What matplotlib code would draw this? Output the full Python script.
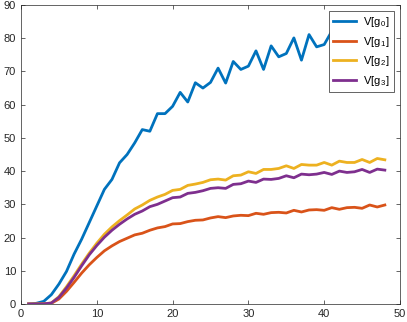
import matplotlib.pyplot as plt

plt.rcParams["font.family"] = ["Liberation Sans", "DejaVu Sans"]
plt.rcParams["mathtext.fontset"] = "custom"
plt.rcParams["mathtext.rm"] = "Liberation Sans"
plt.rcParams["mathtext.it"] = "Liberation Sans"

# sample index (x axis)
steps = list(range(1, 49))

v_g0 = [0.0, 0.2, 0.8, 2.8, 6.0, 9.8, 15.0, 19.5, 24.5, 29.5,
        34.5, 37.5, 42.5, 45.0, 48.5, 52.5, 52.0, 57.3, 57.3, 59.5,
        63.7, 60.8, 66.6, 65.0, 66.7, 71.0, 66.5, 73.0, 70.6, 71.6,
        76.2, 70.6, 77.7, 74.4, 75.4, 80.1, 73.4, 81.1, 77.4, 78.1,
        82.1, 80.0, 83.0, 81.0, 84.0, 82.0, 85.0, 84.0]
v_g1 = [0.0, 0.0, 0.05, 0.2, 1.5, 3.8, 6.5, 9.3, 11.8, 14.0,
        16.0, 17.5, 18.8, 19.8, 20.8, 21.3, 22.2, 22.9, 23.3, 24.1,
        24.2, 24.8, 25.2, 25.3, 25.9, 26.3, 26.0, 26.5, 26.7, 26.6,
        27.3, 27.0, 27.5, 27.6, 27.4, 28.2, 27.7, 28.3, 28.4, 28.2,
        29.0, 28.5, 29.0, 29.1, 28.8, 29.8, 29.2, 29.8]
v_g2 = [0.0, 0.0, 0.05, 0.3, 2.2, 5.2, 8.5, 12.0, 15.3, 18.3,
        21.0, 23.2, 25.1, 26.8, 28.6, 29.8, 31.2, 32.2, 33.0, 34.2,
        34.5, 35.7, 36.1, 36.6, 37.4, 37.6, 37.3, 38.6, 38.8, 39.8,
        39.3, 40.5, 40.5, 40.8, 41.6, 40.8, 42.0, 41.8, 41.8, 42.6,
        41.8, 43.0, 42.6, 42.6, 43.5, 42.6, 43.8, 43.4]
v_g3 = [0.0, 0.0, 0.05, 0.3, 2.0, 4.8, 8.0, 11.5, 14.8, 17.6,
        20.1, 22.2, 24.0, 25.6, 27.0, 28.0, 29.3, 30.0, 31.0, 32.0,
        32.2, 33.3, 33.6, 34.1, 34.8, 35.0, 34.8, 36.0, 36.2, 37.0,
        36.6, 37.6, 37.5, 37.8, 38.6, 38.0, 39.1, 38.9, 39.1, 39.6,
        39.0, 40.0, 39.6, 39.8, 40.5, 39.6, 40.6, 40.3]

labels = [r"V[g$_{\,0}$]", r"V[g$_{\,1}$]", r"V[g$_{\,2}$]", r"V[g$_{\,3}$]"]
colors = ["#0072BD", "#D95319", "#EDB120", "#7E2F8E"]

fig = plt.figure(figsize=(4.07, 3.22), dpi=100)
ax = fig.add_axes([21 / 407, 18 / 322, 379 / 407, 299 / 322])

for ys, lab, col in zip([v_g0, v_g1, v_g2, v_g3], labels, colors):
    ax.plot(steps, ys, color=col, linewidth=2, label=lab)

ax.set_xlim(0, 50)
ax.set_ylim(0, 90)
ax.set_xticks(range(0, 51, 10))
ax.set_yticks(range(0, 91, 10))
ax.tick_params(direction="in", length=3, width=0.5, labelsize=8,
               colors="#262626", top=True, right=True)
for s in ax.spines.values():
    s.set_linewidth(0.5)
    s.set_color("#262626")

leg = ax.legend(loc="upper right", fontsize=8, fancybox=False,
                edgecolor="#262626", handlelength=2.1, handletextpad=0.6,
                borderaxespad=0.5, labelspacing=0.5, framealpha=1)
leg.get_frame().set_linewidth(0.5)

fig.savefig("out.png", dpi=100)
